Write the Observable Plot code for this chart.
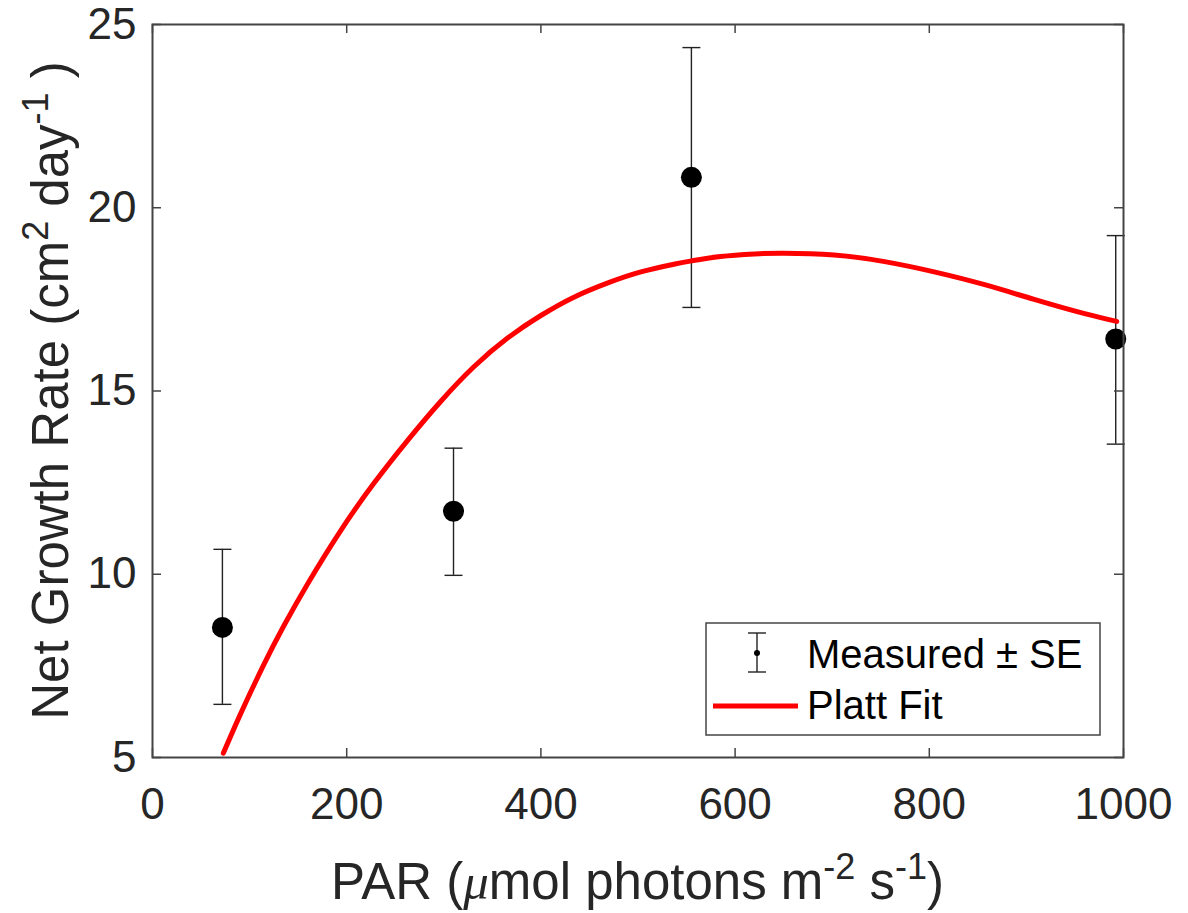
<!DOCTYPE html>
<html><head><meta charset="utf-8">
<script src="https://cdn.jsdelivr.net/npm/d3@7"></script>
<script src="https://cdn.jsdelivr.net/npm/@observablehq/plot@0.6"></script>
<style>body{margin:0;background:#fff} #chart{width:1188px;height:913px}</style>
</head><body><div id="chart"></div>
<script>
// Measured points (PAR, net growth rate, SE bounds)
const parValues   = [72, 310, 555, 992];
const growthRates = [8.55, 11.72, 20.83, 16.42];
const seLower     = [6.45, 9.97, 17.28, 13.55];
const seUpper     = [10.68, 13.44, 24.37, 19.24];
// Platt fit curve
const fitPAR  = [73, 90, 114, 135, 160, 194, 228, 263, 297, 331, 366, 400, 434, 469, 503, 537, 555, 585, 620, 650, 702, 754, 805, 857, 908, 960, 993];
const fitRate = [5.12, 6.15, 7.50, 8.58, 9.75, 11.20, 12.48, 13.66, 14.72, 15.66, 16.45, 17.06, 17.56, 17.95, 18.25, 18.46, 18.55, 18.67, 18.74, 18.76, 18.71, 18.53, 18.25, 17.90, 17.50, 17.11, 16.90];
const xTicks = [0, 200, 400, 600, 800, 1000];
const yTicks = [5, 10, 15, 20, 25];

const measured = parValues.map((x, i) => ({x, y: growthRates[i], lo: seLower[i], hi: seUpper[i]}));
const fit = fitPAR.map((x, i) => ({x, y: fitRate[i]}));

const capSymbol = {draw(ctx, size) { const r = Math.sqrt(size / Math.PI); ctx.moveTo(-r, 0); ctx.lineTo(r, 0); }};

const W = 1188, H = 913, mL = 152, mR = 65, mT = 24, mB = 156;
const fw = W - mL - mR, fh = H - mT - mB;
const tickLen = 9;
const font = "'Liberation Sans', Arial, Helvetica, sans-serif";
const axisColor = "#444";
const textColor = "#262626";

const plot = Plot.plot({
  width: W, height: H,
  marginLeft: mL, marginRight: mR, marginTop: mT, marginBottom: mB,
  style: {fontFamily: font, fontSize: "44px", background: "#fff", color: textColor, overflow: "visible"},
  x: {domain: [0, 1000], label: null},
  y: {domain: [5, 25], label: null},
  marks: [
    Plot.ruleX(measured, {x: "x", y1: "lo", y2: "hi", stroke: "#222", strokeWidth: 1.4}),
    Plot.dot(measured, {x: "x", y: "lo", symbol: capSymbol, r: 9, fill: "none", stroke: "#222", strokeWidth: 1.4}),
    Plot.dot(measured, {x: "x", y: "hi", symbol: capSymbol, r: 9, fill: "none", stroke: "#222", strokeWidth: 1.4}),
    Plot.line(fit, {x: "x", y: "y", stroke: "#ff0000", strokeWidth: 5, curve: "natural"}),
    Plot.dot(measured, {x: "x", y: "y", r: 10.5, fill: "#000", stroke: "none"}),
    Plot.tickX(xTicks, {x: d => d, insetTop: fh - tickLen, stroke: axisColor, strokeWidth: 1.5}),
    Plot.tickX(xTicks, {x: d => d, insetBottom: fh - tickLen, stroke: axisColor, strokeWidth: 1.5}),
    Plot.tickY(yTicks, {y: d => d, insetRight: fw - tickLen, stroke: axisColor, strokeWidth: 1.5}),
    Plot.tickY(yTicks, {y: d => d, insetLeft: fw - tickLen, stroke: axisColor, strokeWidth: 1.5}),
    Plot.frame({stroke: axisColor, strokeWidth: 2}),
    Plot.axisX({ticks: xTicks, tickFormat: d3.format("d"), tickSize: 0, tickPadding: 30, fill: textColor, label: null}),
    Plot.axisY({ticks: yTicks, tickFormat: d3.format("d"), tickSize: 0, tickPadding: 16, fill: textColor, label: null})
  ]
});
document.getElementById("chart").append(plot);

const svg = d3.select(plot);
// X axis label
const xl = svg.append("text")
  .attr("x", (mL + W - mR) / 2).attr("y", 899)
  .attr("text-anchor", "middle").attr("font-size", 51).attr("fill", textColor)
  .attr("font-family", font);
xl.append("tspan").text("PAR (");
xl.append("tspan").attr("font-family", "'Liberation Serif', serif").attr("font-style", "italic").text("μ");
xl.append("tspan").text("mol photons m");
xl.append("tspan").attr("font-size", 36).attr("dy", -20).text("-2");
xl.append("tspan").attr("dy", 20).text(" s");
xl.append("tspan").attr("font-size", 36).attr("dy", -20).text("-1");
xl.append("tspan").attr("dy", 20).text(")");

// Y axis label
const yl = svg.append("text")
  .attr("transform", `translate(68,${(mT + H - mB) / 2}) rotate(-90)`)
  .attr("text-anchor", "middle").attr("font-size", 51).attr("fill", textColor)
  .attr("font-family", font);
yl.append("tspan").text("Net Growth Rate (cm");
yl.append("tspan").attr("font-size", 36).attr("dy", -20).text("2");
yl.append("tspan").attr("dy", 20).text(" day");
yl.append("tspan").attr("font-size", 36).attr("dy", -20).text("-1");
yl.append("tspan").attr("dy", 20).text(" )");

// Legend
const lg = svg.append("g").attr("font-family", font).attr("font-size", 40).attr("fill", "#000").attr("text-anchor", "start");
lg.append("rect").attr("x", 706).attr("y", 623).attr("width", 394).attr("height", 112)
  .attr("fill", "#fff").attr("stroke", axisColor).attr("stroke-width", 1.5);
lg.append("line").attr("x1", 757).attr("x2", 757).attr("y1", 633).attr("y2", 672).attr("stroke", "#222").attr("stroke-width", 1.4);
lg.append("line").attr("x1", 748).attr("x2", 766).attr("y1", 633).attr("y2", 633).attr("stroke", "#222").attr("stroke-width", 1.4);
lg.append("line").attr("x1", 748).attr("x2", 766).attr("y1", 672).attr("y2", 672).attr("stroke", "#222").attr("stroke-width", 1.4);
lg.append("circle").attr("cx", 757).attr("cy", 653).attr("r", 3).attr("fill", "#000");
lg.append("text").attr("x", 807).attr("y", 668).attr("text-anchor", "start").text("Measured ± SE");
lg.append("line").attr("x1", 713).attr("x2", 798).attr("y1", 706).attr("y2", 706).attr("stroke", "#ff0000").attr("stroke-width", 5);
lg.append("text").attr("x", 807).attr("y", 719).attr("text-anchor", "start").text("Platt Fit");
</script>
</body></html>
